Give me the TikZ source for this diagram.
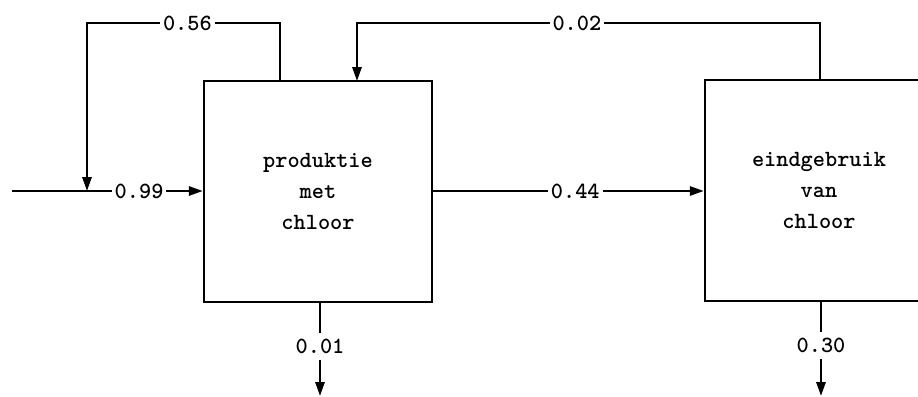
\documentclass[tikz,border=0pt]{standalone}
\usepackage{fontspec}
\usetikzlibrary{arrows.meta}
\begin{document}
\begin{tikzpicture}[x=0.5pt,y=-0.5pt,
  line width=1.2pt,
  flow/.style={-{Triangle[length=7pt,width=4.6pt]}},
  procbox/.style={draw,minimum width=114pt,minimum height=110.5pt,align=center,
    font=\ttfamily\bfseries\fontsize{11.6pt}{15.5pt}\selectfont},
  lab/.style={fill=white,inner sep=1.5pt,font=\ttfamily\bfseries\fontsize{11.6pt}{12pt}\selectfont}]
\useasboundingbox (0,0) rectangle (918,397);
\clip (0,0) rectangle (918,397);
% boxes
\node[procbox] (p) at (318,191.5) {produktie\\met\\chloor};
\node[procbox] (e) at (819,190.5) {eindgebruik\\van\\chloor};
% coordinates
\coordinate (in) at (12,191);
\coordinate (j) at (87,191);
\coordinate (pout) at (280,81);
\coordinate (pret) at (357,81);
\coordinate (eout) at (820,80);
\coordinate (pb) at (320,302);
\coordinate (eb) at (821,301);
\coordinate (pend) at (320,396);
\coordinate (eend) at (821,396);
% input
\draw (in) -- (j);
\draw[flow] (j) -- node[lab,pos=0.45]{0.99} (j -| p.west);
% recycle 0.56
\draw[flow] (pout) -- (280,23) -- node[lab,pos=0.48]{0.56} (87,23) -- (j);
% return 0.02
\draw[flow] (eout) -- (820,23) -- node[lab,pos=0.525]{0.02} (357,23) -- (pret);
% 0.44
\draw[flow] (p.east |- 0,191) -- node[lab,pos=0.525]{0.44} (e.west |- 0,191);
% outputs
\draw[flow] (pb) -- node[lab,pos=0.47,inner sep=3pt]{0.01} (pend);
\draw[flow] (eb) -- node[lab,pos=0.47,inner sep=3pt]{0.30} (eend);
\end{tikzpicture}
\end{document}
